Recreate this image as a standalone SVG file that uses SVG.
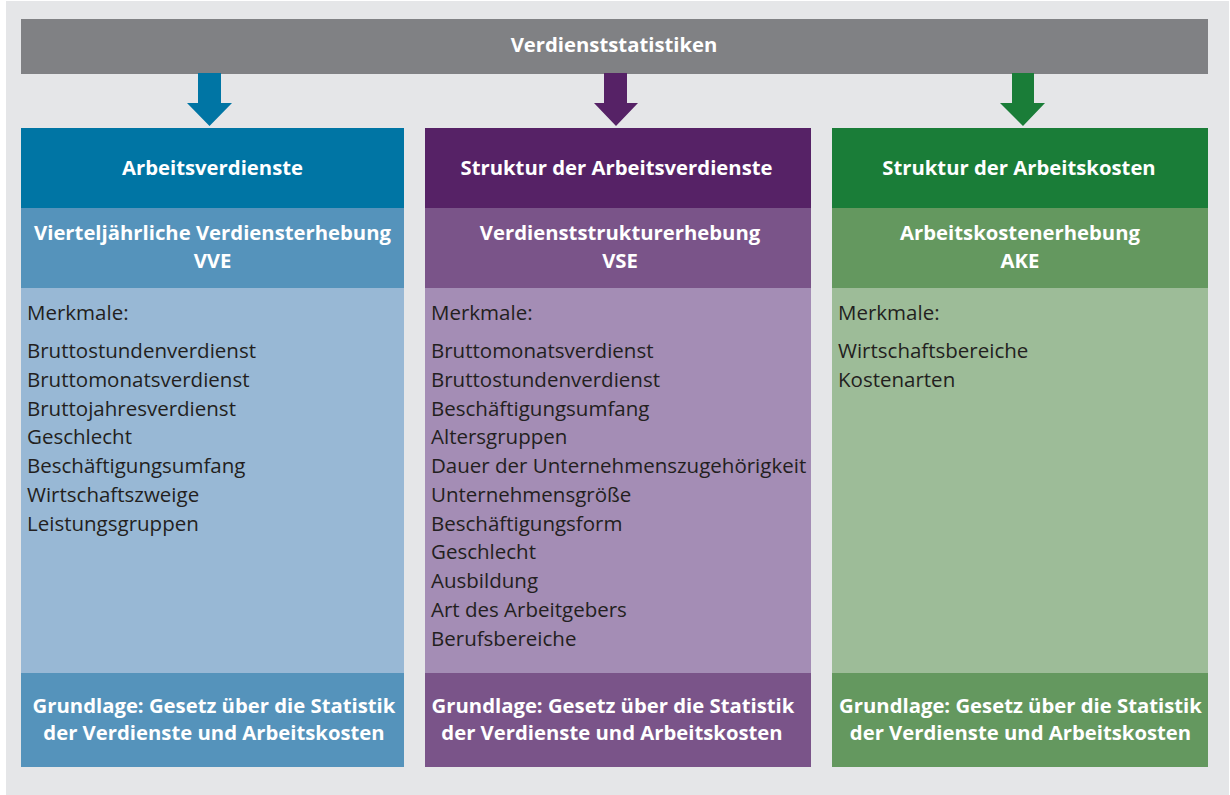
<svg xmlns="http://www.w3.org/2000/svg" width="1230" height="795" viewBox="0 0 1230 795">
<style>
text{font-family:"Open Sans","Noto Sans","Liberation Sans",sans-serif}
.t{fill:#ffffff;font-weight:bold;font-size:20.3px;text-anchor:middle}
.b{fill:#231f20;font-size:20.5px}
</style>
<rect x="0" y="0" width="1230" height="795" fill="#ffffff"/>
<rect x="6" y="1" width="1223" height="794" fill="#e5e6e8"/>
<g id="top">
<rect x="21" y="19" width="1187" height="55" fill="#808184"/>
<text class="t" x="614" y="52">Verdienststatistiken</text>
</g>
<g id="connectors">
<polygon points="198,73 221,73 221,103 232,103 209.5,126 187,103 198,103" fill="#0075a4"/>
<polygon points="604,73 627,73 627,103 638,103 616,126 594,103 604,103" fill="#562266"/>
<polygon points="1012,73 1034,73 1034,103 1045,103 1023,126 1000,103 1012,103" fill="#1a7d38"/>
</g>
<g id="col1">
<rect x="21" y="128" width="383" height="80" fill="#0075a4"/>
<rect x="21" y="208" width="383" height="80" fill="#5593bb"/>
<rect x="21" y="288" width="383" height="385" fill="#98b8d5"/>
<rect x="21" y="673" width="383" height="94" fill="#5593bb"/>
<text class="t" x="212.5" y="175">Arbeitsverdienste</text>
<text class="t" x="212.5" y="240">Vierteljährliche Verdiensterhebung</text>
<text class="t" x="212.5" y="268">VVE</text>
<text class="b" x="27" y="320">Merkmale:</text>
<text class="b" x="27" y="358">Bruttostundenverdienst</text>
<text class="b" x="27" y="386.75">Bruttomonatsverdienst</text>
<text class="b" x="27" y="415.5">Bruttojahresverdienst</text>
<text class="b" x="27" y="444.25">Geschlecht</text>
<text class="b" x="27" y="473">Beschäftigungsumfang</text>
<text class="b" x="27" y="501.75">Wirtschaftszweige</text>
<text class="b" x="27" y="530.5">Leistungsgruppen</text>
<text class="t" x="214" y="713">Grundlage: Gesetz über die Statistik</text>
<text class="t" x="214" y="740">der Verdienste und Arbeitskosten</text>
</g>
<g id="col2">
<rect x="425" y="128" width="386" height="80" fill="#562266"/>
<rect x="425" y="208" width="386" height="80" fill="#7a5489"/>
<rect x="425" y="288" width="386" height="385" fill="#a48db5"/>
<rect x="425" y="673" width="386" height="94" fill="#7a5489"/>
<text class="t" x="616.5" y="175">Struktur der Arbeitsverdienste</text>
<text class="t" x="620" y="240">Verdienststrukturerhebung</text>
<text class="t" x="620" y="268">VSE</text>
<text class="b" x="431" y="320">Merkmale:</text>
<text class="b" x="431" y="358">Bruttomonatsverdienst</text>
<text class="b" x="431" y="386.75">Bruttostundenverdienst</text>
<text class="b" x="431" y="415.5">Beschäftigungsumfang</text>
<text class="b" x="431" y="444.25">Altersgruppen</text>
<text class="b" x="431" y="473">Dauer der Unternehmenszugehörigkeit</text>
<text class="b" x="431" y="501.75">Unternehmensgröße</text>
<text class="b" x="431" y="530.5">Beschäftigungsform</text>
<text class="b" x="431" y="559.25">Geschlecht</text>
<text class="b" x="431" y="588">Ausbildung</text>
<text class="b" x="431" y="616.75">Art des Arbeitgebers</text>
<text class="b" x="431" y="645.5">Berufsbereiche</text>
<text class="t" x="613" y="713">Grundlage: Gesetz über die Statistik</text>
<text class="t" x="612" y="740">der Verdienste und Arbeitskosten</text>
</g>
<g id="col3">
<rect x="832" y="128" width="376" height="80" fill="#1a7d38"/>
<rect x="832" y="208" width="376" height="80" fill="#64985f"/>
<rect x="832" y="288" width="376" height="385" fill="#9dbc98"/>
<rect x="832" y="673" width="376" height="94" fill="#64985f"/>
<text class="t" x="1019" y="175">Struktur der Arbeitskosten</text>
<text class="t" x="1020" y="240">Arbeitskostenerhebung</text>
<text class="t" x="1020" y="268">AKE</text>
<text class="b" x="838" y="320">Merkmale:</text>
<text class="b" x="838" y="358">Wirtschaftsbereiche</text>
<text class="b" x="838" y="386.75">Kostenarten</text>
<text class="t" x="1020.5" y="713">Grundlage: Gesetz über die Statistik</text>
<text class="t" x="1020.5" y="740">der Verdienste und Arbeitskosten</text>
</g>
</svg>
